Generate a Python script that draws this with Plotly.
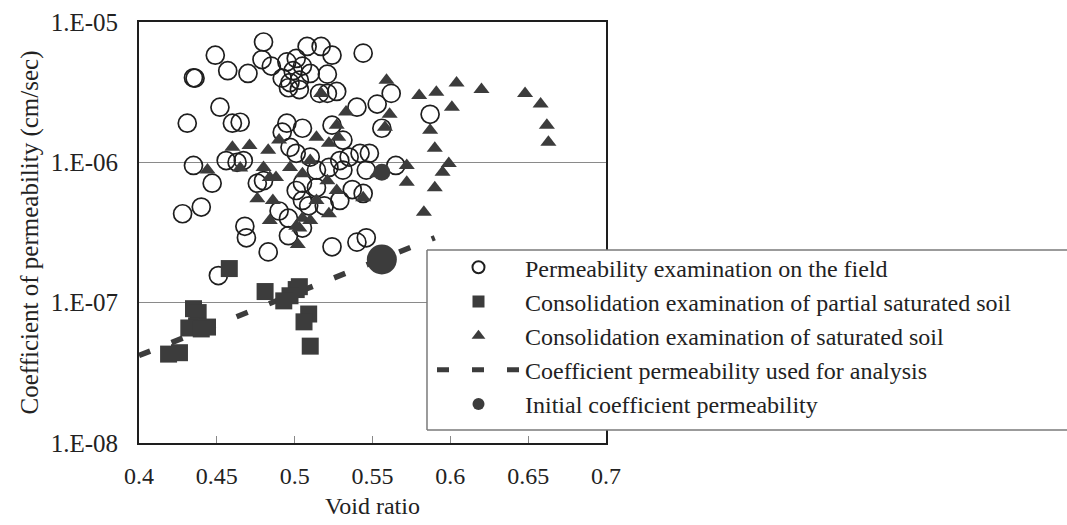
import plotly.graph_objects as go

# Permeability examination on the field (void ratio, k in cm/sec)
field_e = [0.480, 0.449, 0.508, 0.517, 0.524, 0.544, 0.435, 0.436, 0.457, 0.470,
           0.479, 0.485, 0.495, 0.501, 0.499, 0.505, 0.492, 0.497, 0.503, 0.510,
           0.496, 0.503, 0.521, 0.516, 0.527, 0.521, 0.562, 0.553, 0.587, 0.556,
           0.565, 0.452, 0.431, 0.460, 0.465, 0.495, 0.505, 0.492, 0.524, 0.540,
           0.531, 0.435, 0.447, 0.456, 0.463, 0.467, 0.480, 0.476, 0.497, 0.501,
           0.510, 0.514, 0.505, 0.529, 0.535, 0.542, 0.522, 0.531, 0.544, 0.428,
           0.440, 0.501, 0.505, 0.514, 0.468, 0.469, 0.483, 0.451, 0.496, 0.505,
           0.524, 0.540, 0.546, 0.548, 0.546, 0.537, 0.509, 0.519, 0.490, 0.496,
           0.529]
field_k = [7.2e-6, 5.8e-6, 6.7e-6, 6.7e-6, 5.8e-6, 6.0e-6, 4.0e-6, 3.98e-6, 4.5e-6, 4.3e-6,
           5.4e-6, 4.85e-6, 5.2e-6, 5.5e-6, 4.5e-6, 4.85e-6, 3.98e-6, 3.7e-6, 3.85e-6, 4.3e-6,
           3.4e-6, 3.3e-6, 4.25e-6, 3.1e-6, 3.2e-6, 3.1e-6, 3.1e-6, 2.6e-6, 2.2e-6, 1.75e-6,
           9.5e-7, 2.47e-6, 1.9e-6, 1.9e-6, 1.93e-6, 1.9e-6, 1.75e-6, 1.64e-6, 1.84e-6, 2.47e-6,
           1.44e-6, 9.5e-7, 7.1e-7, 1.03e-6, 1.0e-6, 1.03e-6, 7.4e-7, 7.1e-7, 1.28e-6, 1.16e-6,
           1.09e-6, 8.8e-7, 7.1e-7, 1.03e-6, 1.09e-6, 1.16e-6, 9.2e-7, 8.8e-7, 6.0e-7, 4.3e-7,
           4.8e-7, 6.3e-7, 5.35e-7, 6.6e-7, 3.5e-7, 2.9e-7, 2.3e-7, 1.56e-7, 3.0e-7, 3.4e-7,
           2.5e-7, 2.7e-7, 2.9e-7, 1.16e-6, 8.8e-7, 6.4e-7, 4.9e-7, 4.9e-7, 4.5e-7, 4.0e-7,
           5.35e-7]

# Consolidation examination of partial saturated soil
partial_e = [0.458, 0.481, 0.501, 0.503, 0.497, 0.493, 0.435, 0.438, 0.437,
             0.432, 0.444, 0.440, 0.509, 0.506, 0.510, 0.419, 0.426]
partial_k = [1.75e-7, 1.2e-7, 1.24e-7, 1.3e-7, 1.12e-7, 1.03e-7, 9.06e-8, 8.5e-8, 6.85e-8,
             6.6e-8, 6.7e-8, 6.5e-8, 8.3e-8, 7.3e-8, 4.9e-8, 4.3e-8, 4.4e-8]

# Consolidation examination of saturated soil
sat_e = [0.559, 0.580, 0.591, 0.604, 0.620, 0.648, 0.658, 0.601, 0.561, 0.558,
         0.662, 0.663, 0.587, 0.590, 0.572, 0.599, 0.595, 0.572, 0.590, 0.583,
         0.517, 0.533, 0.527, 0.460, 0.471, 0.483, 0.490, 0.514, 0.522, 0.528,
         0.444, 0.465, 0.480, 0.484, 0.488, 0.505, 0.497, 0.510, 0.521, 0.527,
         0.476, 0.486, 0.514, 0.522, 0.505, 0.544, 0.553, 0.503, 0.484, 0.501,
         0.502, 0.510]
sat_k = [3.85e-6, 3.0e-6, 3.16e-6, 3.67e-6, 3.3e-6, 3.1e-6, 2.6e-6, 2.47e-6, 2.2e-6, 1.78e-6,
         1.84e-6, 1.39e-6, 1.69e-6, 1.26e-6, 9.5e-7, 9.8e-7, 8.5e-7, 7.2e-7, 6.6e-7, 4.4e-7,
         3.1e-6, 2.28e-6, 1.84e-6, 1.28e-6, 1.32e-6, 1.22e-6, 1.44e-6, 1.51e-6, 1.37e-6, 1.51e-6,
         8.8e-7, 9.1e-7, 9.2e-7, 7.8e-7, 7.8e-7, 8.3e-7, 9.2e-7, 1.03e-6, 7.4e-7, 6.3e-7,
         5.5e-7, 5.35e-7, 5.35e-7, 4.3e-7, 4.0e-7, 5.6e-7, 8.3e-7, 3.4e-7, 3.85e-7, 3.5e-7,
         2.6e-7, 3.85e-7]

# Coefficient permeability used for analysis (log-linear relation)
analysis_e = [0.40, 0.59]
analysis_k = [4.2e-8, 2.9e-7]

# Initial coefficient permeability
initial_e = [0.556, 0.556]
initial_k = [8.5e-7, 2.03e-7]
initial_size = [17, 30]

x_ticks = [0.4, 0.45, 0.5, 0.55, 0.6, 0.65, 0.7]
x_tick_text = ["0.4", "0.45", "0.5", "0.55", "0.6", "0.65", "0.7"]
y_ticks = [1e-8, 1e-7, 1e-6, 1e-5]
y_tick_text = ["1.E-08", "1.E-07", "1.E-06", "1.E-05"]

SERIF = "Liberation Serif, Times New Roman, serif"
DARK = "#3c3c3c"

fig = go.Figure()

fig.add_trace(go.Scatter(
    x=analysis_e, y=analysis_k, mode="lines",
    name="Coefficient permeability used for analysis",
    line=dict(color=DARK, width=5.5, dash="12px,23px"),
    legendrank=4,
))
fig.add_trace(go.Scatter(
    x=field_e, y=field_k, mode="markers",
    name="Permeability examination on the field",
    marker=dict(symbol="circle-open", size=18, color="#1e1e1e", opacity=1,
                line=dict(width=1.7)),
    legendrank=1,
))
fig.add_trace(go.Scatter(
    x=partial_e, y=partial_k, mode="markers",
    name="Consolidation examination of partial saturated soil",
    marker=dict(symbol="square", size=17, color=DARK, opacity=1, line=dict(width=0)),
    legendrank=2,
))
fig.add_trace(go.Scatter(
    x=sat_e, y=sat_k, mode="markers",
    name="Consolidation examination of saturated soil",
    marker=dict(symbol="triangle-up", size=14, color=DARK, opacity=1, line=dict(width=0)),
    legendrank=3,
))
fig.add_trace(go.Scatter(
    x=initial_e, y=initial_k, mode="markers",
    name="Initial coefficient permeability",
    marker=dict(symbol="circle", size=initial_size, color=DARK, opacity=1,
                line=dict(width=0)),
    legendrank=5,
))

# legend panel: white fill with a left/top/bottom border, open to the page edge
LG_X0, LG_X1, LG_Y0, LG_Y1 = 0.6167, 2.2, 0.031, 0.4584
BORDER = dict(color="#7a7a7a", width=1.5)
fig.add_shape(type="rect", xref="paper", yref="paper",
              x0=LG_X0, x1=LG_X1, y0=LG_Y0, y1=LG_Y1,
              fillcolor="white", line=dict(width=0), layer="above")
for x0, x1, y0, y1 in [(LG_X0, LG_X1, LG_Y1, LG_Y1),
                       (LG_X0, LG_X1, LG_Y0, LG_Y0),
                       (LG_X0, LG_X0, LG_Y0, LG_Y1)]:
    fig.add_shape(type="line", xref="paper", yref="paper",
                  x0=x0, x1=x1, y0=y0, y1=y1, line=BORDER, layer="above")

fig.update_xaxes(
    range=[0.4, 0.7], tickvals=x_ticks, ticktext=x_tick_text,
    showgrid=False, zeroline=False,
    showline=True, linecolor="#1e1e1e", linewidth=2, mirror=True,
    ticks="inside", ticklen=7, tickcolor="#888", tickwidth=1,
    ticklabelstandoff=10,
    tickfont=dict(family=SERIF, size=24, color="#222"),
    title=dict(text="Void ratio", font=dict(family=SERIF, size=24, color="#222"), standoff=9),
)
fig.update_yaxes(
    type="log", range=[-8, -5], tickvals=y_ticks, ticktext=y_tick_text,
    showgrid=True, gridcolor="#8a8a8a", gridwidth=1, zeroline=False,
    showline=True, linecolor="#1e1e1e", linewidth=2, mirror=True,
    ticks="", ticklabelstandoff=14,
    tickfont=dict(family=SERIF, size=25, color="#222"),
    title=dict(text="Coefficient of permeability (cm/sec)",
               font=dict(family=SERIF, size=25, color="#222"), standoff=5),
)

fig.update_layout(
    width=1067, height=525,
    margin=dict(l=139, r=461, t=22, b=82, autoexpand=False),
    paper_bgcolor="white", plot_bgcolor="white",
    showlegend=True,
    legend=dict(
        x=0.6274, y=0.470, xanchor="left", yanchor="top",
        bgcolor="rgba(0,0,0,0)", borderwidth=0,
        itemwidth=83, itemsizing="constant",
        font=dict(family=SERIF, size=24, color="#222"),
    ),
)

fig.write_html("out.html")
